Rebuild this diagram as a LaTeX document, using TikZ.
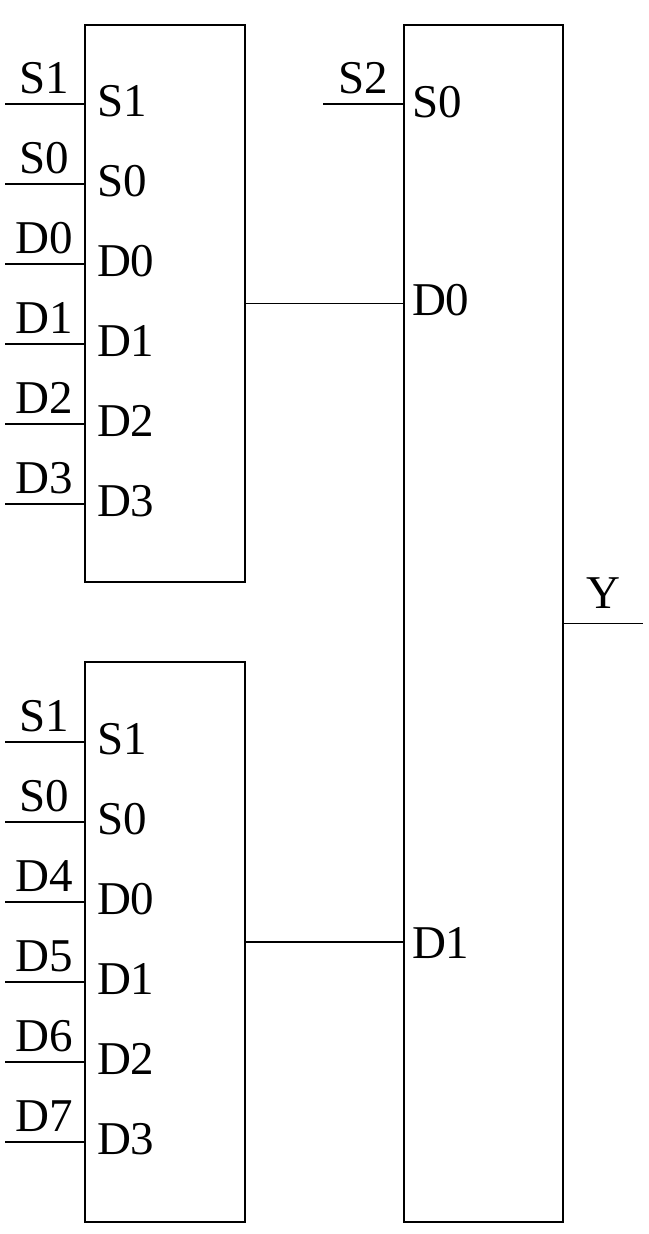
\documentclass[tikz,border=0pt]{standalone}
\usepackage{fontspec}
\setmainfont{Liberation Serif}
\usetikzlibrary{positioning}

\begin{document}
\begin{tikzpicture}[x=1pt, y=-1pt, line width=1.5pt,
    font=\fontsize{47}{56}\selectfont,
    block/.style={draw, minimum width=160pt, inner sep=0pt},
    pinlab/.style={anchor=base, inner sep=0pt},
    inlab/.style={anchor=base west, inner sep=0pt}]
  \useasboundingbox (0,0) rectangle (648,1234);
  % the three multiplexers
  \node[block, minimum height=557pt] (muxa) at (165,303.5) {};
  \node[block, minimum height=560pt] (muxb) at (165,942) {};
  \node[block, minimum width=159pt, minimum height=1197pt] (muxc) at (483.5,623.5) {};
  % inputs of the upper one
  \foreach \outer/\inner [count=\i] in {S1/S1,S0/S0,D0/D0,D1/D1,D2/D2,D3/D3} {
    \coordinate (a\i) at (5,24+80*\i);
    \draw (a\i) -- (a\i -| muxa.west) node[pinlab, midway, yshift=11pt] {\outer};
    \node[inlab] (la\i) at ([xshift=12pt, yshift=-12pt]a\i -| muxa.west) {\inner};
  }
  % inputs of the lower one
  \foreach \outer/\inner [count=\i] in {S1/S1,S0/S0,D4/D0,D5/D1,D6/D2,D7/D3} {
    \coordinate (b\i) at (5,662+80*\i);
    \draw (b\i) -- (b\i -| muxb.west) node[pinlab, midway, yshift=11pt] {\outer};
    \node[inlab] (lb\i) at ([xshift=12pt, yshift=-12pt]b\i -| muxb.west) {\inner};
  }
  % the right one
  \coordinate (s2) at (323,104);
  \draw (s2) -- (s2 -| muxc.west) node[pinlab, midway, yshift=11pt] {S2};
  \node[inlab] (lc0) at ([xshift=8pt, yshift=-13pt]s2 -| muxc.west) {S0};
  \draw (muxa.east) -- (muxa.east -| muxc.west);
  \node[inlab] (lc1) at ([xshift=8pt, yshift=-12pt]muxa.east -| muxc.west) {D0};
  \draw (muxb.east) -- (muxb.east -| muxc.west);
  \node[inlab] (lc2) at ([xshift=8pt, yshift=-16pt]muxb.east -| muxc.west) {D1};
  \coordinate (y) at (643,623.5);
  \draw (muxc.east) -- (y) node[pinlab, midway, yshift=15pt] {Y};
\end{tikzpicture}
\end{document}
